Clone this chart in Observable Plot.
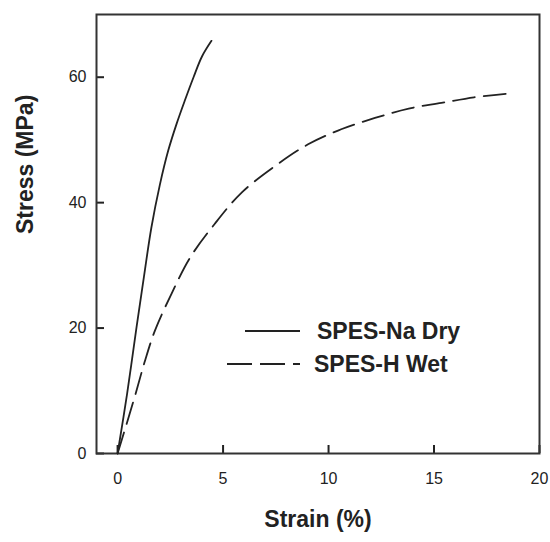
<!DOCTYPE html>
<html>
<head>
<meta charset="utf-8">
<script src="https://cdn.jsdelivr.net/npm/d3@7"></script>
<script src="https://cdn.jsdelivr.net/npm/@observablehq/plot@0.6"></script>
<style>
  body { margin: 0; background: #fff; }
  #chart { position: relative; width: 550px; height: 542px; }
  svg { font-family: "Liberation Sans", Arial, sans-serif; }
</style>
</head>
<body>
<div id="chart"></div>
<script>
// Series: SPES-Na Dry (solid)
const naDryStrain = [0, 0.45, 0.9, 1.25, 1.6, 2.0, 2.4, 2.8, 3.2, 3.6, 4.0, 4.45];
const naDryStress = [0, 9.5, 20.2, 28.2, 36.0, 42.8, 48.3, 52.6, 56.4, 60.0, 63.3, 65.8];
// Series: SPES-H Wet (dashed)
const hWetStrain = [0, 0.8, 1.3, 1.77, 2.56, 3.43, 4.6, 5.88, 7.45, 9.03, 10.6, 12.2, 13.8, 15.35, 16.9, 18.6];
const hWetStress = [0, 8.9, 14.8, 19.6, 25.5, 31.2, 36.6, 41.6, 45.8, 49.3, 51.7, 53.5, 55.0, 55.9, 56.8, 57.4];
// Axes
const xTicks = [0, 5, 10, 15, 20];
const yTicks = [0, 20, 40, 60];
const xDomain = [-1, 20];
const yDomain = [0, 70];
const seriesNames = ["SPES-Na Dry", "SPES-H Wet"];
const xLabel = "Strain (%)";
const yLabel = "Stress (MPa)";

const naDry = naDryStrain.map((x, i) => ({x, y: naDryStress[i]}));
const hWet = hWetStrain.map((x, i) => ({x, y: hWetStress[i]}));

const ink = "#222";
const svg = Plot.plot({
  width: 550,
  height: 542,
  marginLeft: 96,
  marginTop: 14,
  marginRight: 11,
  marginBottom: 89,
  style: {fontFamily: '"Liberation Sans", Arial, sans-serif', color: ink, background: "#fff"},
  x: {domain: xDomain},
  y: {domain: yDomain},
  marks: [
    Plot.axisX(xTicks, {tickSize: -8, tickPadding: 27, fontSize: 16, stroke: ink, strokeWidth: 2, fill: ink, label: null}),
    Plot.axisY(yTicks, {tickSize: -8, tickPadding: 18, fontSize: 16, stroke: ink, strokeWidth: 2, fill: ink, label: null}),
    Plot.frame({stroke: "#333", strokeWidth: 2}),
    Plot.line(naDry, {x: "x", y: "y", stroke: ink, strokeWidth: 1.8, curve: "catmull-rom"}),
    Plot.line(hWet, {x: "x", y: "y", stroke: ink, strokeWidth: 1.8, strokeDasharray: "22 9", curve: "catmull-rom"}),
    Plot.text([xLabel], {text: d => d, frameAnchor: "bottom", dy: 73, fontSize: 23, fontWeight: "bold", fill: ink}),
    Plot.text([yLabel], {text: d => d, frameAnchor: "left", dx: -71, rotate: -90, fontSize: 23, fontWeight: "bold", fill: ink})
  ]
});
document.getElementById("chart").appendChild(svg);

// Legend inside the plot area
const lg = d3.select(svg).append("g").attr("class", "legend").attr("text-anchor", "start");
const rows = [
  {name: seriesNames[0], x1: 245, x2: 300, y: 331, tx: 317, dash: null},
  {name: seriesNames[1], x1: 227, x2: 300, y: 364, tx: 314, dash: "25 8"}
];
rows.forEach(r => {
  lg.append("line").attr("x1", r.x1).attr("x2", r.x2).attr("y1", r.y).attr("y2", r.y)
    .attr("stroke", ink).attr("stroke-width", 1.8).attr("stroke-dasharray", r.dash);
  lg.append("text").attr("x", r.tx).attr("y", r.y).attr("dy", "0.35em")
    .attr("text-anchor", "start")
    .attr("font-size", 23).attr("font-weight", "bold").attr("fill", ink).text(r.name);
});
</script>
</body>
</html>
